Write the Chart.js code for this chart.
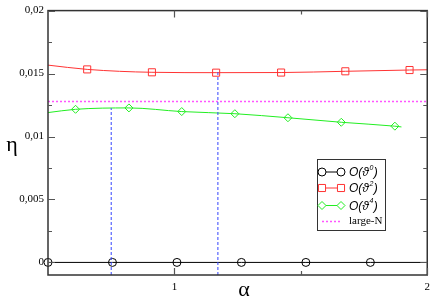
<!DOCTYPE html>
<html><head><meta charset="utf-8">
<script src="https://cdn.jsdelivr.net/npm/chart.js@4/dist/chart.umd.min.js"></script>
<style>html,body{margin:0;padding:0;background:#fff}#wrap{width:436px;height:302px}</style>
</head><body><div id="wrap"><canvas id="c" width="436" height="302"></canvas></div>
<script>
// ---- data ----
const o0X = [0.5, 0.755, 1.01, 1.265, 1.52, 1.775, 2.0];
const o0Y = [0, 0, 0, 0, 0, 0, 0];
const o0Marker = [1, 1, 1, 1, 1, 1, 0];

const o2X = [0.5, 0.655, 0.911, 1.165, 1.422, 1.676, 1.93, 2.0];
const o2Y = [0.01567, 0.01533, 0.0151, 0.01507, 0.01508, 0.01518, 0.01528, 0.0153];
const o2Marker = [0, 1, 1, 1, 1, 1, 1, 0];

const o4X = [0.5, 0.609, 0.820, 1.029, 1.239, 1.449, 1.660, 1.872, 1.898];
const o4Y = [0.0119, 0.01216, 0.01227, 0.01198, 0.01181, 0.01149, 0.01113, 0.01082, 0.01076];
const o4Marker = [0, 1, 1, 1, 1, 1, 1, 1, 0];

const largeNX = [0.5, 2.0];
const largeNY = [0.01279, 0.01279];

const guide1X = [0.75, 0.75];
const guide1Y = [-0.001, 0.01225];
const guide2X = [1.172, 1.172];
const guide2Y = [-0.001, 0.0151];

const yTickValues = [0, 0.005, 0.01, 0.015, 0.02];
const yTickLabels = ["0", "0,005", "0,01", "0,015", "0,02"];
const yMinorValues = [0.0025, 0.0075, 0.0125, 0.0175];
const xTickValues = [1, 2];
const xTickLabels = ["1", "2"];
const xMinorValues = [1.5];

const legendItems = [
  {sup: "0", color: "#000000", style: "circle"},
  {sup: "2", color: "#ff3333", style: "rect"},
  {sup: "4", color: "#22ee22", style: "rectRot"},
  {label: "large-N", color: "#ff55ff", style: "dash"}
];

const pts = (xs, ys) => xs.map((x, i) => ({x: x, y: ys[i]}));

const framePlugin = {
  id: 'frame',
  afterDraw(chart) {
    const ctx = chart.ctx, a = chart.chartArea;
    const xs = chart.scales.x, ys = chart.scales.y;
    ctx.save();
    ctx.strokeStyle = '#333';
    ctx.lineWidth = 1.5;
    ctx.strokeRect(a.left, a.top, a.right - a.left, a.bottom - a.top);
    ctx.lineWidth = 1.2;
    ctx.strokeStyle = '#555';
    const hTick = (v, len) => {
      const y = Math.round(ys.getPixelForValue(v)) + 0.5;
      ctx.beginPath(); ctx.moveTo(a.left, y); ctx.lineTo(a.left + len, y);
      ctx.moveTo(a.right, y); ctx.lineTo(a.right - len, y); ctx.stroke();
    };
    const vTick = (v, len) => {
      const x = Math.round(xs.getPixelForValue(v)) + 0.5;
      ctx.beginPath(); ctx.moveTo(x, a.bottom); ctx.lineTo(x, a.bottom - len);
      ctx.moveTo(x, a.top); ctx.lineTo(x, a.top + len); ctx.stroke();
    };
    yTickValues.forEach(v => hTick(v, 7));
    yMinorValues.forEach(v => hTick(v, 4));
    xTickValues.forEach(v => vTick(v, 7));
    xMinorValues.forEach(v => vTick(v, 4));

    // axis titles
    ctx.fillStyle = '#000';
    ctx.font = '22px "Liberation Serif", serif';
    ctx.textAlign = 'center'; ctx.textBaseline = 'middle';
    ctx.fillText('η', 12, 145);
    ctx.fillText('α', 244, 290);

    // legend
    const bx = 317, by = 159, bw = 68, bh = 71;
    ctx.fillStyle = '#fff';
    ctx.fillRect(bx, by, bw, bh);
    ctx.strokeStyle = '#333'; ctx.lineWidth = 1;
    ctx.strokeRect(bx + 0.5, by + 0.5, bw, bh);
    const rowY = [172, 188, 205.5, 221.5];
    legendItems.forEach((it, i) => {
      const y = rowY[i];
      const x1 = 322, x2 = 341;
      ctx.strokeStyle = it.color; ctx.lineWidth = 1;
      if (it.style === 'dash') {
        ctx.lineWidth = 1.5;
        ctx.setLineDash([2, 2]);
        ctx.beginPath(); ctx.moveTo(x1, y); ctx.lineTo(x2, y); ctx.stroke();
        ctx.setLineDash([]);
        ctx.fillStyle = '#000';
        ctx.font = '11px "Liberation Serif", serif';
        ctx.textAlign = 'left'; ctx.textBaseline = 'middle';
        ctx.fillText(it.label, 349, y);
      } else {
        ctx.beginPath(); ctx.moveTo(x1, y); ctx.lineTo(x2, y); ctx.stroke();
        const r = it.style === 'rect' ? 5 : 4;
        [x1, x2].forEach(px => {
          ctx.fillStyle = '#ffffff';
          Chart.helpers.drawPoint(ctx, {pointStyle: it.style, radius: r, borderWidth: 1}, px, y);
        });
        ctx.fillStyle = '#000';
        ctx.textAlign = 'left'; ctx.textBaseline = 'middle';
        ctx.font = 'italic 12px "Liberation Sans", sans-serif';
        let tx = 349;
        ctx.fillText('O(ϑ', tx, y + 1);
        tx += ctx.measureText('O(ϑ').width;
        ctx.font = 'italic 7px "Liberation Sans", sans-serif';
        ctx.fillText(it.sup, tx + 0.5, y - 4);
        tx += ctx.measureText(it.sup).width + 1;
        ctx.font = 'italic 12px "Liberation Sans", sans-serif';
        ctx.fillText(')', tx, y + 1);
      }
    });
    ctx.restore();
  }
};

const lineDs = (label, data, color, style, radius, markers, extra) => Object.assign({
  label: label,
  data: data,
  borderColor: color,
  backgroundColor: 'rgba(0,0,0,0)',
  borderWidth: 1,
  pointStyle: style,
  pointRadius: markers ? markers.map(m => m ? radius : 0) : 0,
  pointBorderColor: color,
  pointBackgroundColor: 'rgba(0,0,0,0)',
  pointBorderWidth: 1,
  cubicInterpolationMode: 'monotone',
  showLine: true
}, extra || {});

new Chart(document.getElementById('c'), {
  type: 'scatter',
  data: {
    datasets: [
      lineDs('guide1', pts(guide1X, guide1Y), '#3344ff', 'circle', 0, null, {borderDash: [3, 2], cubicInterpolationMode: 'default'}),
      lineDs('guide2', pts(guide2X, guide2Y), '#3344ff', 'circle', 0, null, {borderDash: [3, 2], cubicInterpolationMode: 'default'}),
      lineDs('large-N', pts(largeNX, largeNY), '#ff55ff', 'circle', 0, null, {borderDash: [2, 2], borderWidth: 1.5, cubicInterpolationMode: 'default'}),
      lineDs('O0', pts(o0X, o0Y), '#000000', 'circle', 4, o0Marker),
      lineDs('O2', pts(o2X, o2Y), '#ff3333', 'rect', 5, o2Marker),
      lineDs('O4', pts(o4X, o4Y), '#22ee22', 'rectRot', 4, o4Marker)
    ]
  },
  options: {
    responsive: false,
    animation: false,
    clip: false,
    layout: {padding: {left: 0, right: 4, top: 5, bottom: 0}},
    plugins: {legend: {display: false}, tooltip: {enabled: false}},
    scales: {
      x: {
        type: 'linear', min: 0.5, max: 2,
        grid: {display: false, drawTicks: false},
        border: {display: false},
        afterBuildTicks: s => { s.ticks = xTickValues.map(v => ({value: v})); },
        afterFit: s => { s.height = 27; },
        ticks: {
          padding: 6, color: '#000', maxRotation: 0, autoSkip: false,
          font: {family: '"Liberation Serif", serif', size: 11},
          callback: v => { const i = xTickValues.indexOf(v); return i >= 0 ? xTickLabels[i] : ''; }
        }
      },
      y: {
        type: 'linear', min: -0.001, max: 0.02,
        grid: {display: false, drawTicks: false},
        border: {display: false},
        afterBuildTicks: s => { s.ticks = yTickValues.map(v => ({value: v})); },
        afterFit: s => { s.width = 48; },
        ticks: {
          padding: 4, color: '#000', autoSkip: false,
          font: {family: '"Liberation Serif", serif', size: 11},
          callback: v => { const i = yTickValues.indexOf(v); return i >= 0 ? yTickLabels[i] : ''; }
        }
      }
    }
  },
  plugins: [framePlugin]
});
</script></body></html>
